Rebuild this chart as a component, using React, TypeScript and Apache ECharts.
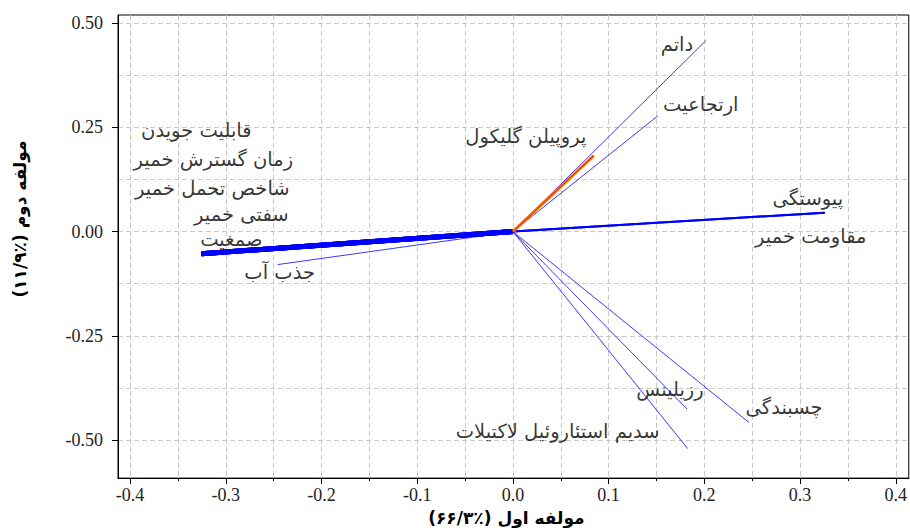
import React, { useEffect, useRef } from 'react';
import * as echarts from 'echarts';

// ---- data ----
const variables = [
  'داتم',
  'ارتجاعیت',
  'پروپیلن گلیکول',
  'پیوستگی',
  'مقاومت خمیر',
  'قابلیت جویدن',
  'زمان گسترش خمیر',
  'شاخص تحمل خمیر',
  'سفتی خمیر',
  'صمغیت',
  'جذب آب',
  'چسبندگی',
  'رزیلینس',
  'سدیم استئاروئیل لاکتیلات',
];
const pc1 = [0.2017, 0.1514, 0.0845, 0.3259, 0.3259, -0.3255, -0.3255, -0.3255, -0.3255, -0.3255, -0.2458, 0.2468, 0.1819, 0.1826];
const pc2 = [0.4586, 0.2777, 0.1825, 0.0455, 0.0455, -0.0531, -0.0531, -0.0531, -0.0531, -0.0531, -0.0792, -0.4584, -0.4258, -0.5209];

const xTickValues = [-0.4, -0.3, -0.2, -0.1, 0, 0.1, 0.2, 0.3, 0.4];
const xGridValues = [-0.4, -0.35, -0.3, -0.25, -0.2, -0.15, -0.1, -0.05, 0, 0.05, 0.1, 0.15, 0.2, 0.25, 0.3, 0.35, 0.4];
const yTickValues = [-0.5, -0.25, 0, 0.25, 0.5];
const yGridValues = [-0.5, -0.375, -0.25, -0.125, 0, 0.125, 0.25, 0.375, 0.5];

const xTitle = 'مولفه اول (٪۶۶/۳)';
const yTitle = 'مولفه دوم (٪۱۱/۹)';

// ---- layout / style ----
const X_MIN = -0.4126;
const X_MAX = 0.4136;
const Y_MIN = -0.5916;
const Y_MAX = 0.5198;

const labelOffsets: Record<string, [number, number]> = {
  'داتم': [-29, 4],
  'ارتجاعیت': [43, -11],
  'پروپیلن گلیکول': [-68, -19],
  'پیوستگی': [-17, -14],
  'مقاومت خمیر': [-14, 24],
  'قابلیت جویدن': [-5, -123],
  'زمان گسترش خمیر': [12, -94],
  'شاخص تحمل خمیر': [11, -65],
  'سفتی خمیر': [40, -39],
  'صمغیت': [30, -14],
  'جذب آب': [2, 8],
  'چسبندگی': [35, -15],
  'رزیلینس': [-17, -20],
  'سدیم استئاروئیل لاکتیلات': [-130, -17],
};

const lineStyles: Record<string, { color: string; width: number; z: number }[]> = {
  'پروپیلن گلیکول': [
    { color: '#ff7a00', width: 3, z: 4 },
    { color: '#e8200a', width: 1, z: 5 },
  ],
  'پیوستگی': [{ color: '#0000ff', width: 2, z: 3 }],
  'مقاومت خمیر': [{ color: '#0000ff', width: 2, z: 3 }],
  'قابلیت جویدن': [{ color: '#0000ff', width: 5, z: 3 }],
  'زمان گسترش خمیر': [{ color: '#0000ff', width: 5, z: 3 }],
  'شاخص تحمل خمیر': [{ color: '#0000ff', width: 5, z: 3 }],
  'سفتی خمیر': [{ color: '#0000ff', width: 5, z: 3 }],
  'صمغیت': [{ color: '#0000ff', width: 5, z: 3 }],
};
const defaultLine = [{ color: '#3a3aff', width: 1, z: 2 }];

const tickFont = { fontFamily: 'Liberation Serif', fontSize: 18, color: '#222' };
const gridLine = { show: true, lineStyle: { color: '#c8c8c8', width: 1, type: [5, 3] as number[] } };

export default function App() {
  const ref = useRef<HTMLDivElement>(null);
  useEffect(() => {
    if (!ref.current) return;
    const chart = echarts.init(ref.current, undefined, { renderer: 'svg' });

    const lineSeries: any[] = [];
    variables.forEach((name, i) => {
      const styles = lineStyles[name] || defaultLine;
      styles.forEach((st) => {
        lineSeries.push({
          type: 'line',
          name,
          xAxisIndex: 0,
          yAxisIndex: 0,
          data: [[0, 0], [pc1[i], pc2[i]]],
          symbol: 'none',
          silent: true,
          z: st.z,
          lineStyle: { color: st.color, width: st.width, cap: 'butt' },
        });
      });
    });

    const option: any = {
      animation: false,
      backgroundColor: '#ffffff',
      grid: {
        left: 118,
        right: -2,
        top: 15,
        bottom: 49,
        show: true,
        borderColor: '#000',
        borderWidth: 1,
        backgroundColor: 'transparent',
      },
      xAxis: [
        {
          type: 'value',
          position: 'bottom',
          min: X_MIN,
          max: X_MAX,
          axisLine: { show: true, onZero: false, lineStyle: { color: '#000', width: 1 } },
          axisTick: { show: true, length: 6, customValues: xTickValues, lineStyle: { color: '#000' } },
          axisLabel: {
            show: true,
            customValues: xTickValues,
            formatter: (v: number) => v.toFixed(1),
            margin: 8,
            ...tickFont,
          },
          splitLine: { show: false },
          name: xTitle + '\u200F',
          nameLocation: 'middle',
          nameGap: 29,
          nameTextStyle: {
            fontFamily: 'DejaVu Sans',
            fontWeight: 'bold',
            fontSize: 17,
            color: '#000',
            padding: [0, 14, 0, 0],
          },
        },
        {
          type: 'value',
          position: 'bottom',
          min: X_MIN,
          max: X_MAX,
          axisLine: { show: false, onZero: false },
          axisTick: { show: true, length: 3, customValues: xGridValues, lineStyle: { color: '#000' } },
          axisLabel: { show: false },
          splitLine: gridLine,
        },
      ],
      yAxis: [
        {
          type: 'value',
          position: 'left',
          min: Y_MIN,
          max: Y_MAX,
          axisLine: { show: true, onZero: false, lineStyle: { color: '#000', width: 1 } },
          axisTick: { show: true, length: 6, customValues: yTickValues, lineStyle: { color: '#000' } },
          axisLabel: {
            show: true,
            customValues: yTickValues,
            formatter: (v: number) => v.toFixed(2),
            margin: 15,
            ...tickFont,
          },
          splitLine: { show: false },
          name: yTitle + '\u200F',
          nameLocation: 'middle',
          nameRotate: 90,
          nameGap: 90,
          nameTextStyle: {
            fontFamily: 'DejaVu Sans',
            fontWeight: 'bold',
            fontSize: 17,
            color: '#000',
            padding: [0, 0, 0, 55],
          },
        },
        {
          type: 'value',
          position: 'left',
          min: Y_MIN,
          max: Y_MAX,
          axisLine: { show: false, onZero: false },
          axisTick: { show: false, customValues: yGridValues },
          axisLabel: { show: false },
          splitLine: gridLine,
        },
      ],
      series: [
        ...lineSeries,
        {
          type: 'scatter',
          xAxisIndex: 0,
          yAxisIndex: 0,
          symbolSize: 0,
          silent: true,
          z: 6,
          data: variables.map((name, i) => ({
            name,
            value: [pc1[i], pc2[i]],
            label: { offset: labelOffsets[name] },
          })),
          label: {
            show: true,
            position: 'inside',
            formatter: '{b}',
            fontFamily: 'DejaVu Sans',
            fontSize: 19.5,
            lineHeight: 20,
            color: '#000',
          },
        },
      ],
    };
    chart.setOption(option);
    return () => chart.dispose();
  }, []);
  return <div ref={ref} style={{ position: 'fixed', left: 0, top: 0, width: 910, height: 531 }} />;
}
